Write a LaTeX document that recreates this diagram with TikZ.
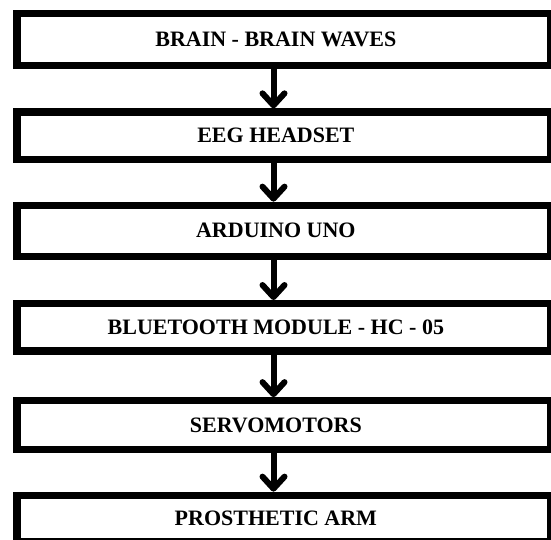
\documentclass[tikz,border=0pt]{standalone}
\usepackage{fontspec}
\setmainfont{Liberation Serif}
\usetikzlibrary{arrows.meta}
\begin{document}
\begin{tikzpicture}[x=1pt,y=-1pt,
  stage/.style={draw=black, line width=7.3pt, fill=white, rectangle, inner sep=0pt,
    minimum width=533.7pt},
  lbl/.style={font=\fontsize{22}{25}\selectfont\bfseries, text=black},
  arr/.style={line width=6pt, -{Straight Barb[round,length=12pt,width=22pt]}}]
\useasboundingbox[fill=white] (0,0) rectangle (551,540);
\coordinate (ax) at (273.5,0);
\node[stage, minimum height=51.6pt, label={[lbl,xshift=-8pt]center:BRAIN - BRAIN WAVES}] (b1) at (283.85,39.5) {};
\node[stage, minimum height=47.5pt, label={[lbl,xshift=-8pt]center:EEG HEADSET}] (b2) at (283.85,135.75) {};
\node[stage, minimum height=51pt, label={[lbl,xshift=-8pt]center:ARDUINO UNO}] (b3) at (283.85,230.8) {};
\node[stage, minimum height=47.3pt, label={[lbl,xshift=-8pt]center:BLUETOOTH MODULE - HC - 05}] (b4) at (283.85,327.35) {};
\node[stage, minimum height=48.9pt, label={[lbl,xshift=-8pt]center:SERVOMOTORS}] (b5) at (283.85,425.25) {};
\node[stage, minimum height=46.4pt, label={[lbl,xshift=-8pt]center:PROSTHETIC ARM}] (b6) at (283.85,518.5) {};
\draw[arr] (b1.south -| ax) -- (b2.north -| ax);
\draw[arr] (b2.south -| ax) -- (b3.north -| ax);
\draw[arr] (b3.south -| ax) -- (b4.north -| ax);
\draw[arr] (b4.south -| ax) -- (b5.north -| ax);
\draw[arr] (b5.south -| ax) -- (b6.north -| ax);
\end{tikzpicture}
\end{document}
